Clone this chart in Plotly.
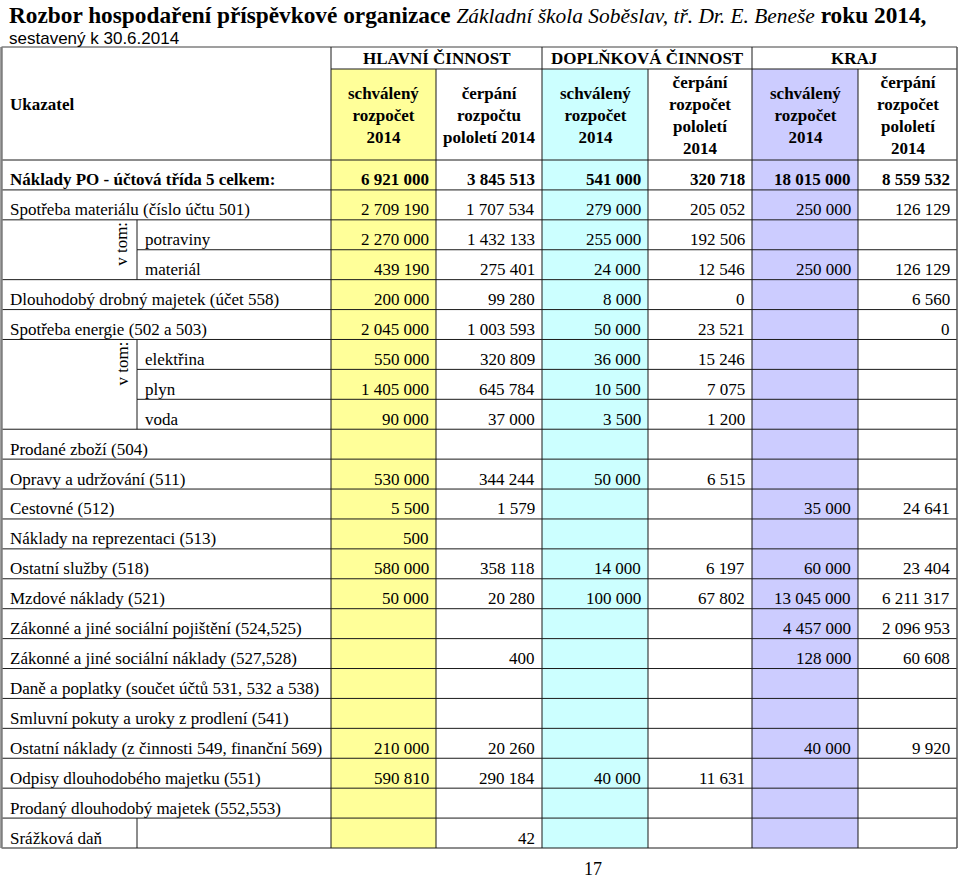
import plotly.graph_objects as go

# ---------------- data ----------------
labels = [
    "Náklady PO - účtová třída 5 celkem:",
    "Spotřeba materiálu (číslo účtu 501)",
    "potraviny",
    "materiál",
    "Dlouhodobý drobný majetek (účet 558)",
    "Spotřeba energie (502 a 503)",
    "elektřina",
    "plyn",
    "voda",
    "Prodané zboží (504)",
    "Opravy a udržování (511)",
    "Cestovné (512)",
    "Náklady na reprezentaci (513)",
    "Ostatní služby (518)",
    "Mzdové náklady (521)",
    "Zákonné a jiné sociální pojištění (524,525)",
    "Zákonné a jiné sociální náklady (527,528)",
    "Daně a poplatky (součet účtů 531, 532 a 538)",
    "Smluvní pokuty a uroky z prodlení (541)",
    "Ostatní náklady (z činnosti 549, finanční 569)",
    "Odpisy dlouhodobého majetku (551)",
    "Prodaný dlouhodobý majetek (552,553)",
    "Srážková daň",
]
sub_rows = [False, False, True, True, False, False, True, True, True, False, False,
            False, False, False, False, False, False, False, False, False, False, False, False]

hl_schvaleny = [6921000, 2709190, 2270000, 439190, 200000, 2045000, 550000, 1405000, 90000, None,
                530000, 5500, 500, 580000, 50000, None, None, None, None, 210000, 590810, None, None]
hl_cerpani = [3845513, 1707534, 1432133, 275401, 99280, 1003593, 320809, 645784, 37000, None,
              344244, 1579, None, 358118, 20280, None, 400, None, None, 20260, 290184, None, 42]
dop_schvaleny = [541000, 279000, 255000, 24000, 8000, 50000, 36000, 10500, 3500, None,
                 50000, None, None, 14000, 100000, None, None, None, None, None, 40000, None, None]
dop_cerpani = [320718, 205052, 192506, 12546, 0, 23521, 15246, 7075, 1200, None,
               6515, None, None, 6197, 67802, None, None, None, None, None, 11631, None, None]
kraj_schvaleny = [18015000, 250000, None, 250000, None, None, None, None, None, None,
                  None, 35000, None, 60000, 13045000, 4457000, 128000, None, None, 40000, None, None, None]
kraj_cerpani = [8559532, 126129, None, 126129, 6560, 0, None, None, None, None,
                None, 24641, None, 23404, 6211317, 2096953, 60608, None, None, 9920, None, None, None]

group_headers = ["HLAVNÍ ČINNOST", "DOPLŇKOVÁ ČINNOST", "KRAJ"]
col_headers = [
    "schválený<br>rozpočet<br>2014",
    "čerpání<br>rozpočtu<br>pololetí 2014",
    "schválený<br>rozpočet<br>2014",
    "čerpání<br>rozpočet<br>pololetí<br>2014",
    "schválený<br>rozpočet<br>2014",
    "čerpání<br>rozpočet<br>pololetí<br>2014",
]
value_cols = [hl_schvaleny, hl_cerpani, dop_schvaleny, dop_cerpani, kraj_schvaleny, kraj_cerpani]

# ---------------- layout geometry ----------------
W, H = 960, 878
x_left, x_split = 1.5, 137
col_edges = [331, 436, 542, 648, 752, 858, 957]
col_fills = ["#FFFF99", None, "#CCFFFF", None, "#CCCCFF", None]
y_top, y_grp, y_head = 47, 69, 160
row_h = (848 - 160) / len(labels)
LINE = "#1a1a1a"
SERIF = "Liberation Serif, Times New Roman, serif"
SANS = "Liberation Sans, Arial, sans-serif"
FS = 17


def fmt(v):
    return f"{v:,}".replace(",", " ")


shapes = []
annotations = []
n = len(labels)
y_bottom = y_head + n * row_h


def hline(y, x0, x1, color=LINE, w=1):
    shapes.append(dict(type="line", x0=x0, x1=x1, y0=y, y1=y, line=dict(color=color, width=w), layer="above"))


def vline(x, y0, y1, color=LINE, w=1):
    shapes.append(dict(type="line", x0=x, x1=x, y0=y0, y1=y1, line=dict(color=color, width=w), layer="above"))


# column fills
for j, c in enumerate(col_fills):
    if c:
        shapes.append(dict(type="rect", x0=col_edges[j], x1=col_edges[j + 1], y0=y_grp, y1=y_bottom,
                           fillcolor=c, line=dict(width=0), layer="below"))

# horizontal lines
hline(y_top, x_left, col_edges[-1], color="#7f7f7f", w=1.5)
hline(y_grp, col_edges[0], col_edges[-1])
hline(y_head, x_left, col_edges[-1])
for k in range(1, n + 1):
    y = y_head + k * row_h
    inner = k < n and sub_rows[k - 1] and sub_rows[k]
    hline(y, x_split if inner else x_left, col_edges[-1])

# vertical lines
vline(x_left, y_top, y_bottom, color="#7f7f7f", w=2.5)
for j, x in enumerate(col_edges):
    if j in (0, 2, 4):
        vline(x, y_top, y_bottom)
    elif j == 6:
        vline(x, y_top, y_bottom, color="#555555", w=1.5)
    else:
        vline(x, y_grp, y_bottom)
for i in range(n):
    if sub_rows[i] or i == n - 1:
        vline(x_split, y_head + i * row_h, y_head + (i + 1) * row_h)

# "v tom:" rotated labels
i = 0
while i < n:
    if sub_rows[i]:
        start = i
        while i < n and sub_rows[i]:
            i += 1
        annotations.append(dict(x=122, y=y_head + start * row_h + 24, text="v tom:", textangle=-90,
                                showarrow=False, xanchor="center", yanchor="middle",
                                font=dict(family=SERIF, size=FS, color="black")))
    else:
        i += 1

# header texts
annotations.append(dict(x=8, y=104, text="<b>Ukazatel</b>", showarrow=False, xanchor="left", yanchor="middle",
                        font=dict(family=SERIF, size=FS, color="black")))
for g, txt in enumerate(group_headers):
    x0, x1 = col_edges[2 * g], col_edges[2 * g + 2]
    annotations.append(dict(x=(x0 + x1) / 2, y=58.5, text=f"<b>{txt}</b>", showarrow=False,
                            xanchor="center", yanchor="middle",
                            font=dict(family=SERIF, size=FS, color="black")))
for j, txt in enumerate(col_headers):
    x0, x1 = col_edges[j], col_edges[j + 1]
    annotations.append(dict(x=(x0 + x1) / 2, y=115, text=f"<b>{txt}</b>", showarrow=False,
                            xanchor="center", yanchor="middle", align="center",
                            font=dict(family=SERIF, size=FS, color="black")))

# body texts
for i, lab in enumerate(labels):
    yc = y_head + (i + 1) * row_h - 10
    bold = i == 0
    t = f"<b>{lab}</b>" if bold else lab
    annotations.append(dict(x=143 if sub_rows[i] else 8, y=yc, text=t, showarrow=False,
                            xanchor="left", yanchor="middle",
                            font=dict(family=SERIF, size=FS, color="black")))
    for j, col in enumerate(value_cols):
        v = col[i]
        if v is None:
            continue
        s = fmt(v)
        annotations.append(dict(x=col_edges[j + 1] - 5, y=yc, text=f"<b>{s}</b>" if bold else s,
                                showarrow=False, xanchor="right", yanchor="middle",
                                font=dict(family=SERIF, size=FS, color="black")))

# title and subtitle
annotations.append(dict(x=7, y=15,
                        text="<b>Rozbor hospodaření příspěvkové organizace</b> "
                             "<i><span style=\"font-size:21.4px\">Základní škola Soběslav, tř. Dr. E. Beneše</span></i>"
                             " <b>roku 2014,</b>",
                        showarrow=False, xanchor="left", yanchor="middle",
                        font=dict(family=SERIF, size=23.3, color="black")))
annotations.append(dict(x=7, y=38, text="sestavený k 30.6.2014", showarrow=False,
                        xanchor="left", yanchor="middle",
                        font=dict(family=SANS, size=17, color="black")))
annotations.append(dict(x=593, y=869, text="17", showarrow=False, xanchor="center", yanchor="middle",
                        font=dict(family=SERIF, size=18, color="black")))

fig = go.Figure()
fig.update_layout(
    width=W, height=H, margin=dict(l=0, r=0, t=0, b=0),
    paper_bgcolor="white", plot_bgcolor="white",
    xaxis=dict(range=[0, W], visible=False, fixedrange=True),
    yaxis=dict(range=[H, 0], visible=False, fixedrange=True),
    shapes=shapes, annotations=annotations, showlegend=False,
)
fig.write_html("out.html", config={"displayModeBar": False},
               post_script="document.body.style.margin='0';document.body.style.overflow='hidden';")
